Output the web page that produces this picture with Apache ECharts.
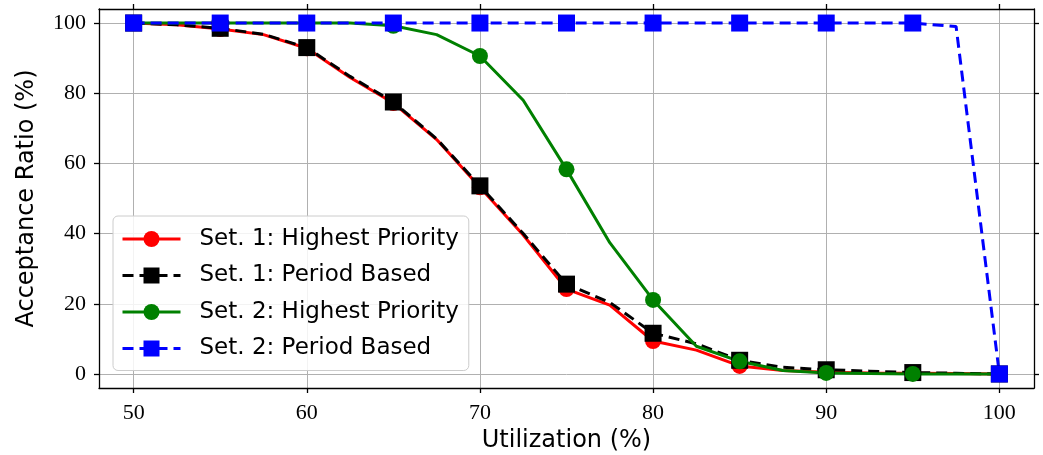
<!DOCTYPE html>
<html>
<head>
<meta charset="utf-8">
<script src="https://cdn.jsdelivr.net/npm/echarts@6/dist/echarts.min.js"></script>
<style>
  html, body { margin: 0; padding: 0; background: #fff; }
  #chart { width: 1043px; height: 455px; }
</style>
</head>
<body>
<div id="chart"></div>
<script>
// Utilization steps (%) and acceptance ratios (%) per scheduling setting
const utilization = [50, 52.5, 55, 57.5, 60, 62.5, 65, 67.5, 70, 72.5, 75, 77.5, 80, 82.5, 85, 87.5, 90, 92.5, 95, 97.5, 100];
const set1Highest = [100, 99.5, 98.3, 96.7, 92.8, 84.5, 77.2, 66.8, 53.2, 39.6, 24.2, 19.6, 9.4, 6.8, 2.3, 1.0, 0.5, 0.3, 0.2, 0.1, 0];
const set1Period  = [100, 99.5, 98.5, 96.8, 93.0, 84.8, 77.5, 67.0, 53.6, 40.0, 25.6, 20.4, 11.6, 8.6, 3.9, 1.9, 1.2, 0.8, 0.4, 0.2, 0];
const set2Highest = [100, 100, 100, 100, 100, 100, 99.2, 96.7, 90.6, 78.0, 58.3, 37.4, 21.1, 7.9, 3.6, 1.0, 0.3, 0.1, 0, 0, 0];
const set2Period  = [100, 100, 100, 100, 100, 100, 100, 100, 100, 100, 100, 100, 100, 100, 100, 100, 100, 100, 100, 99.0, 0];

const xTicks = [50, 60, 70, 80, 90, 100];
const yTicks = [0, 20, 40, 60, 80, 100];

const seriesNames = [
  'Set. 1: Highest Priority',
  'Set. 1: Period Based',
  'Set. 2: Highest Priority',
  'Set. 2: Period Based'
];

const serif = 'Liberation Serif';
const sans = 'DejaVu Sans';

// markers on every other sample (every 5 %), plain line through the rest
function points(values, symbol) {
  return utilization.map((u, i) => ({
    value: [u, values[i]],
    symbol: i % 2 === 0 ? symbol : 'none'
  }));
}

function lineSeries(name, values, color, symbol, size, dashed) {
  return {
    name: name,
    type: 'line',
    data: points(values, symbol),
    symbol: symbol,
    symbolSize: size,
    showAllSymbol: true,
    clip: false,
    itemStyle: { color: color, borderWidth: 0 },
    lineStyle: { color: color, width: 3, type: dashed ? [11, 6] : 'solid', cap: 'butt' },
    emphasis: { disabled: true },
    animation: false
  };
}

const axisLine = { show: true, onZero: false, lineStyle: { color: '#000', width: 1.3 } };
const tickStyle = { show: true, inside: false, length: 5, lineStyle: { color: '#000', width: 1.3 } };
const gridLine = { show: true, lineStyle: { color: '#b0b0b0', width: 1 } };

const chart = echarts.init(document.getElementById('chart'), null, { renderer: 'canvas' });

chart.setOption({
  backgroundColor: '#fff',
  animation: false,
  grid: { left: 99, right: 9, top: 9, bottom: 67, containLabel: false, outerBoundsMode: 'none' },
  xAxis: [
    {
      type: 'value', min: 48, max: 102, position: 'bottom',
      name: 'Utilization (%)', nameLocation: 'middle', nameGap: 32,
      nameTextStyle: { fontFamily: sans, fontSize: 24, color: '#000' },
      axisLine: axisLine,
      axisTick: Object.assign({ customValues: xTicks }, tickStyle),
      axisLabel: { customValues: xTicks, margin: 14, fontFamily: serif, fontSize: 22, color: '#000' },
      splitLine: Object.assign({ customValues: xTicks }, gridLine)
    },
    {
      type: 'value', min: 48, max: 102, position: 'top',
      axisLine: axisLine,
      axisTick: Object.assign({ customValues: xTicks }, tickStyle),
      axisLabel: { show: false },
      splitLine: { show: false }
    }
  ],
  yAxis: [
    {
      type: 'value', min: -4, max: 104, position: 'left',
      name: 'Acceptance Ratio (%)', nameLocation: 'middle', nameGap: 60, nameRotate: 90,
      nameTextStyle: { fontFamily: sans, fontSize: 24, color: '#000' },
      axisLine: axisLine,
      axisTick: Object.assign({ customValues: yTicks }, tickStyle),
      axisLabel: { customValues: yTicks, margin: 13, fontFamily: serif, fontSize: 22, color: '#000' },
      splitLine: Object.assign({ customValues: yTicks }, gridLine)
    },
    {
      type: 'value', min: -4, max: 104, position: 'right',
      axisLine: axisLine,
      axisTick: Object.assign({ customValues: yTicks }, tickStyle),
      axisLabel: { show: false },
      splitLine: { show: false }
    }
  ],
  legend: {
    orient: 'vertical',
    left: 113, top: 216,
    padding: [11, 10, 10, 8],
    itemWidth: 58, itemHeight: 20, itemGap: 12.5,
    backgroundColor: 'rgba(255,255,255,0.85)',
    borderColor: '#cccccc', borderWidth: 1, borderRadius: 5,
    lineStyle: { width: 3 },
    textStyle: { fontFamily: sans, fontSize: 23, color: '#000', lineHeight: 24, padding: [0, 0, 0, 14] },
    data: seriesNames
  },
  series: [
    lineSeries(seriesNames[0], set1Highest, '#ff0000', 'circle', 16, false),
    lineSeries(seriesNames[1], set1Period, '#000000', 'rect', 17, true),
    lineSeries(seriesNames[2], set2Highest, '#008000', 'circle', 16, false),
    lineSeries(seriesNames[3], set2Period, '#0000ff', 'rect', 17, true)
  ]
});
</script>
</body>
</html>
